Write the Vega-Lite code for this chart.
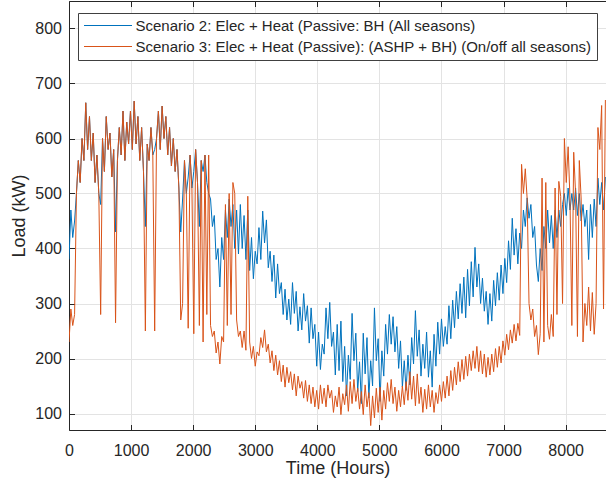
{
"$schema": "https://vega.github.io/schema/vega-lite/v6.json",
"width": 537, "height": 429,
"autosize": {"type": "none"},
"padding": {"left": 69, "top": 1, "right": 0, "bottom": 54},
"background": "white",
"config": {
 "font": "Liberation Sans",
 "view": {"stroke": null},
 "axis": {"domainColor": "#262626", "tickColor": "#262626", "labelColor": "#262626", "titleColor": "#262626", "labelFontSize": 16, "titleFontSize": 18, "titleFontWeight": "normal", "gridColor": "#e3e3e3", "gridWidth": 1, "tickSize": -5.5, "domainWidth": 1, "tickWidth": 1, "labelFlush": false}
},
"data": {"values": [
{"t":0,"a":380,"b":230},{"t":30,"a":470,"b":290},{"t":60,"a":420,"b":260},{"t":90,"a":450,"b":280},
{"t":120,"a":500,"b":500},{"t":150,"a":560,"b":560},{"t":180,"a":520,"b":520},{"t":210,"a":600,"b":600},
{"t":240,"a":560,"b":560},{"t":270,"a":665,"b":665},{"t":300,"a":580,"b":580},{"t":330,"a":640,"b":640},
{"t":360,"a":560,"b":560},{"t":390,"a":610,"b":610},{"t":420,"a":520,"b":520},{"t":450,"a":570,"b":570},
{"t":480,"a":500,"b":500},{"t":510,"a":480,"b":280},{"t":540,"a":600,"b":600},{"t":570,"a":540,"b":540},
{"t":600,"a":640,"b":640},{"t":630,"a":580,"b":580},{"t":660,"a":610,"b":610},{"t":690,"a":530,"b":530},
{"t":720,"a":580,"b":580},{"t":750,"a":430,"b":265},{"t":780,"a":560,"b":560},{"t":810,"a":620,"b":620},
{"t":840,"a":570,"b":570},{"t":870,"a":650,"b":650},{"t":900,"a":560,"b":560},{"t":930,"a":630,"b":630},
{"t":960,"a":590,"b":590},{"t":990,"a":650,"b":650},{"t":1020,"a":580,"b":580},{"t":1050,"a":668,"b":668},
{"t":1080,"a":590,"b":590},{"t":1110,"a":640,"b":640},{"t":1140,"a":560,"b":560},{"t":1170,"a":620,"b":620},
{"t":1200,"a":540,"b":540},{"t":1230,"a":440,"b":250},{"t":1260,"a":590,"b":590},{"t":1290,"a":560,"b":560},
{"t":1320,"a":620,"b":620},{"t":1350,"a":570,"b":570},{"t":1380,"a":580,"b":250},{"t":1410,"a":600,"b":600},
{"t":1440,"a":650,"b":650},{"t":1470,"a":580,"b":580},{"t":1500,"a":659,"b":659},{"t":1530,"a":600,"b":600},
{"t":1560,"a":640,"b":640},{"t":1590,"a":570,"b":570},{"t":1620,"a":620,"b":620},{"t":1650,"a":550,"b":550},
{"t":1680,"a":600,"b":600},{"t":1710,"a":540,"b":540},{"t":1740,"a":580,"b":580},{"t":1770,"a":510,"b":510},
{"t":1800,"a":430,"b":270},{"t":1830,"a":490,"b":300},{"t":1860,"a":560,"b":560},{"t":1890,"a":500,"b":500},
{"t":1920,"a":530,"b":255},{"t":1950,"a":570,"b":570},{"t":1980,"a":510,"b":510},{"t":2010,"a":540,"b":245},
{"t":2040,"a":580,"b":580},{"t":2070,"a":520,"b":520},{"t":2100,"a":440,"b":260},{"t":2130,"a":560,"b":560},
{"t":2160,"a":540,"b":230},{"t":2190,"a":570,"b":570},{"t":2220,"a":520,"b":280},{"t":2250,"a":500,"b":570},
{"t":2280,"a":490,"b":260},{"t":2310,"a":440,"b":240},{"t":2340,"a":460,"b":250},{"t":2370,"a":380,"b":210},
{"t":2400,"a":400,"b":230},{"t":2430,"a":330,"b":190},{"t":2460,"a":420,"b":240},{"t":2490,"a":380,"b":230},
{"t":2520,"a":470,"b":480},{"t":2550,"a":420,"b":260},{"t":2580,"a":490,"b":500},{"t":2610,"a":440,"b":280},
{"t":2640,"a":480,"b":520},{"t":2670,"a":400,"b":500},{"t":2700,"a":470,"b":270},{"t":2730,"a":390,"b":240},
{"t":2760,"a":480,"b":250},{"t":2790,"a":400,"b":220},{"t":2820,"a":460,"b":250},{"t":2850,"a":380,"b":215},
{"t":2880,"a":470,"b":495},{"t":2910,"a":360,"b":230},{"t":2940,"a":420,"b":200},{"t":2970,"a":345,"b":222},
{"t":3000,"a":395,"b":186},{"t":3030,"a":372,"b":212},{"t":3060,"a":438,"b":205},{"t":3090,"a":380,"b":238},
{"t":3120,"a":468,"b":220},{"t":3150,"a":410,"b":252},{"t":3180,"a":452,"b":212},{"t":3210,"a":365,"b":226},
{"t":3240,"a":395,"b":192},{"t":3270,"a":340,"b":214},{"t":3300,"a":388,"b":178},{"t":3330,"a":310,"b":206},
{"t":3360,"a":372,"b":170},{"t":3390,"a":318,"b":196},{"t":3420,"a":338,"b":158},{"t":3450,"a":280,"b":188},
{"t":3480,"a":326,"b":148},{"t":3510,"a":270,"b":184},{"t":3540,"a":308,"b":156},{"t":3570,"a":262,"b":176},
{"t":3600,"a":338,"b":143},{"t":3630,"a":282,"b":172},{"t":3660,"a":322,"b":132},{"t":3690,"a":250,"b":168},
{"t":3720,"a":294,"b":146},{"t":3750,"a":252,"b":158},{"t":3780,"a":318,"b":128},{"t":3810,"a":268,"b":160},
{"t":3840,"a":296,"b":122},{"t":3870,"a":228,"b":152},{"t":3900,"a":292,"b":118},{"t":3930,"a":236,"b":148},
{"t":3960,"a":262,"b":112},{"t":3990,"a":186,"b":142},{"t":4020,"a":248,"b":108},{"t":4050,"a":180,"b":152},
{"t":4080,"a":226,"b":118},{"t":4110,"a":208,"b":146},{"t":4140,"a":292,"b":112},{"t":4170,"a":236,"b":152},
{"t":4200,"a":302,"b":128},{"t":4230,"a":222,"b":142},{"t":4260,"a":248,"b":102},{"t":4290,"a":170,"b":132},
{"t":4320,"a":262,"b":112},{"t":4350,"a":178,"b":148},{"t":4380,"a":268,"b":98},{"t":4410,"a":158,"b":136},
{"t":4440,"a":222,"b":116},{"t":4470,"a":132,"b":152},{"t":4500,"a":206,"b":104},{"t":4530,"a":162,"b":158},
{"t":4560,"a":282,"b":118},{"t":4590,"a":196,"b":162},{"t":4620,"a":246,"b":122},{"t":4650,"a":140,"b":146},
{"t":4680,"a":194,"b":108},{"t":4710,"a":118,"b":140},{"t":4740,"a":246,"b":98},{"t":4770,"a":172,"b":152},
{"t":4800,"a":238,"b":112},{"t":4830,"a":128,"b":138},{"t":4860,"a":196,"b":78},{"t":4890,"a":150,"b":132},
{"t":4920,"a":292,"b":92},{"t":4950,"a":196,"b":146},{"t":4980,"a":236,"b":102},{"t":5010,"a":122,"b":148},
{"t":5040,"a":214,"b":88},{"t":5070,"a":168,"b":142},{"t":5100,"a":262,"b":108},{"t":5130,"a":208,"b":156},
{"t":5160,"a":280,"b":122},{"t":5190,"a":226,"b":162},{"t":5220,"a":276,"b":118},{"t":5250,"a":212,"b":148},
{"t":5280,"a":258,"b":104},{"t":5310,"a":182,"b":142},{"t":5340,"a":232,"b":112},{"t":5370,"a":148,"b":150},
{"t":5400,"a":196,"b":116},{"t":5430,"a":142,"b":158},{"t":5460,"a":206,"b":124},{"t":5490,"a":152,"b":176},
{"t":5520,"a":238,"b":126},{"t":5550,"a":190,"b":168},{"t":5580,"a":287,"b":114},{"t":5610,"a":204,"b":172},
{"t":5640,"a":252,"b":118},{"t":5670,"a":168,"b":148},{"t":5700,"a":226,"b":102},{"t":5730,"a":182,"b":144},
{"t":5760,"a":248,"b":108},{"t":5790,"a":166,"b":152},{"t":5820,"a":214,"b":112},{"t":5850,"a":148,"b":142},
{"t":5880,"a":244,"b":102},{"t":5910,"a":186,"b":138},{"t":5940,"a":266,"b":118},{"t":5970,"a":208,"b":152},
{"t":6000,"a":272,"b":122},{"t":6030,"a":222,"b":158},{"t":6060,"a":258,"b":128},{"t":6090,"a":226,"b":168},
{"t":6120,"a":296,"b":132},{"t":6150,"a":236,"b":178},{"t":6180,"a":306,"b":142},{"t":6210,"a":256,"b":184},
{"t":6240,"a":322,"b":152},{"t":6270,"a":272,"b":194},{"t":6300,"a":336,"b":158},{"t":6330,"a":282,"b":198},
{"t":6360,"a":348,"b":162},{"t":6390,"a":274,"b":204},{"t":6420,"a":362,"b":168},{"t":6450,"a":296,"b":208},
{"t":6480,"a":376,"b":178},{"t":6510,"a":312,"b":214},{"t":6540,"a":402,"b":182},{"t":6570,"a":330,"b":222},
{"t":6600,"a":372,"b":176},{"t":6630,"a":300,"b":214},{"t":6660,"a":346,"b":172},{"t":6690,"a":286,"b":208},
{"t":6720,"a":322,"b":166},{"t":6750,"a":262,"b":202},{"t":6780,"a":318,"b":170},{"t":6810,"a":268,"b":208},
{"t":6840,"a":342,"b":176},{"t":6870,"a":296,"b":218},{"t":6900,"a":356,"b":184},{"t":6930,"a":306,"b":222},
{"t":6960,"a":370,"b":192},{"t":6990,"a":318,"b":232},{"t":7020,"a":382,"b":206},{"t":7050,"a":338,"b":244},
{"t":7080,"a":414,"b":216},{"t":7110,"a":362,"b":252},{"t":7140,"a":455,"b":228},{"t":7170,"a":388,"b":262},
{"t":7200,"a":436,"b":232},{"t":7230,"a":372,"b":264},{"t":7260,"a":428,"b":242},{"t":7290,"a":400,"b":553},
{"t":7320,"a":470,"b":500},{"t":7350,"a":440,"b":545},{"t":7380,"a":492,"b":490},{"t":7410,"a":455,"b":300},
{"t":7440,"a":480,"b":270},{"t":7470,"a":420,"b":290},{"t":7500,"a":440,"b":240},{"t":7530,"a":370,"b":260},
{"t":7560,"a":340,"b":207},{"t":7590,"a":400,"b":245},{"t":7620,"a":360,"b":528},{"t":7650,"a":440,"b":230},
{"t":7680,"a":400,"b":520},{"t":7710,"a":470,"b":260},{"t":7740,"a":410,"b":235},{"t":7770,"a":460,"b":280},
{"t":7800,"a":400,"b":240},{"t":7830,"a":470,"b":510},{"t":7860,"a":420,"b":280},{"t":7890,"a":470,"b":522},
{"t":7920,"a":440,"b":495},{"t":7950,"a":480,"b":300},{"t":7980,"a":500,"b":600},{"t":8010,"a":460,"b":520},
{"t":8040,"a":510,"b":585},{"t":8070,"a":470,"b":490},{"t":8100,"a":500,"b":260},{"t":8130,"a":470,"b":575},
{"t":8160,"a":510,"b":500},{"t":8190,"a":460,"b":240},{"t":8220,"a":500,"b":560},{"t":8250,"a":450,"b":490},
{"t":8280,"a":480,"b":230},{"t":8310,"a":440,"b":300},{"t":8340,"a":470,"b":260},{"t":8370,"a":380,"b":330},
{"t":8400,"a":480,"b":250},{"t":8430,"a":420,"b":320},{"t":8460,"a":490,"b":244},{"t":8490,"a":440,"b":300},
{"t":8520,"a":528,"b":620},{"t":8550,"a":480,"b":580},{"t":8580,"a":520,"b":660},{"t":8610,"a":470,"b":290},
{"t":8640,"a":530,"b":670}
]},
"transform": [{"fold": ["a", "b"], "as": ["k", "v"]}],
"layer": [
 {
  "mark": {"type": "line", "strokeWidth": 1, "clip": true},
  "encoding": {
   "x": {"field": "t", "type": "quantitative", "scale": {"domain": [0, 8650], "nice": false, "zero": false},
    "axis": {"orient": "bottom", "values": [0,1000,2000,3000,4000,5000,6000,7000,8000], "format": "d", "grid": true, "title": "Time (Hours)", "labelPadding": 18, "titlePadding": 1}},
   "y": {"field": "v", "type": "quantitative", "scale": {"domain": [70, 850], "nice": false, "zero": false},
    "axis": {"values": [100,200,300,400,500,600,700,800], "format": "d", "grid": true, "title": "Load (kW)", "labelPadding": 13, "titlePadding": 6}},
   "color": {"field": "k", "type": "nominal", "scale": {"domain": ["a", "b"], "range": ["#0072BD", "#D95319"]},
    "legend": {"orient": "none", "legendX": 9, "legendY": 12, "title": null,
     "labelExpr": "datum.label == 'a' ? 'Scenario 2: Elec + Heat (Passive: BH (All seasons)' : 'Scenario 3: Elec + Heat (Passive): (ASHP + BH) (On/off all seasons)'",
     "symbolType": "M-4,0H4", "symbolSize": 144, "symbolOffset": 17.5, "symbolStrokeWidth": 1, "labelFontSize": 15, "labelColor": "#262626",
     "labelOffset": 20, "padding": 5, "rowPadding": 5, "strokeColor": "#404040", "fillColor": "white", "labelLimit": 0}}
  }
 },
 {
  "mark": {"type": "line", "strokeOpacity": 0},
  "encoding": {
   "x": {"field": "t", "type": "quantitative", "axis": {"orient": "top", "values": [0,1000,2000,3000,4000,5000,6000,7000,8000], "labels": false, "title": null, "grid": false}},
   "y": {"field": "v", "type": "quantitative"},
   "detail": {"field": "k", "type": "nominal"}
  }
 }
],
"resolve": {"axis": {"x": "independent"}}
}
